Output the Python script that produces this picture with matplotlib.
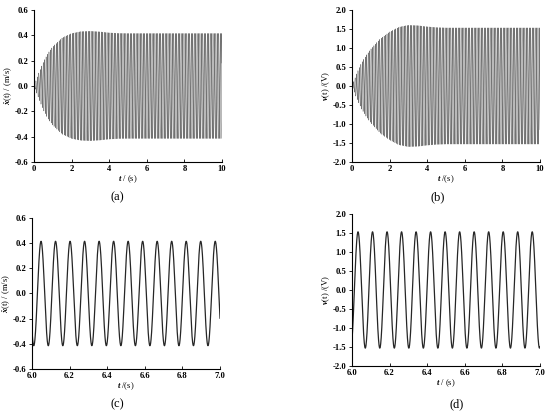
import matplotlib

matplotlib.use("Agg")
import matplotlib.pyplot as plt
import numpy as np

plt.rcParams["font.family"] = ["Liberation Serif", "DejaVu Serif"]
plt.rcParams["font.weight"] = "bold"
plt.rcParams["axes.unicode_minus"] = False
plt.rcParams["mathtext.fontset"] = "custom"
plt.rcParams["mathtext.rm"] = "Liberation Serif:bold"
plt.rcParams["mathtext.it"] = "Liberation Serif:italic:bold"
plt.rcParams["mathtext.bf"] = "Liberation Serif:bold"

# envelope of the velocity response: time (s), amplitude (m/s)
X_ENV_T = [0.0, 0.25, 0.5, 0.75, 1.0, 1.5, 2.0, 2.5, 3.0, 3.5, 4.0, 4.5, 5.0, 10.0]
X_ENV_A = [0.0, 0.10, 0.19, 0.26, 0.31, 0.38, 0.415, 0.43, 0.433, 0.428, 0.42, 0.416, 0.415, 0.415]

# envelope of the voltage: time (s), amplitude (V)
V_ENV_T = [0.0, 0.25, 0.5, 0.75, 1.0, 1.5, 2.0, 2.5, 3.0, 3.5, 4.0, 4.5, 5.0, 10.0]
V_ENV_A = [0.0, 0.33, 0.60, 0.80, 0.97, 1.24, 1.42, 1.55, 1.60, 1.59, 1.56, 1.54, 1.53, 1.53]

# carrier (c) and (d): 13 peaks in 6..7 s
FREQ_HZ = 12.95
X_PEAK_T = 6.048
V_PEAK_T = 6.032

FULL_RANGE = (0, 10)
FULL_TICKS = [0, 2, 4, 6, 8, 10]
ZOOM_RANGE = (6.0, 7.0)
ZOOM_TICKS = [6.0, 6.2, 6.4, 6.6, 6.8, 7.0]
X_YTICKS = [-0.6, -0.4, -0.2, 0.0, 0.2, 0.4, 0.6]
V_YTICKS = [-2.0, -1.5, -1.0, -0.5, 0.0, 0.5, 1.0, 1.5, 2.0]


def response(t, env_t, env_a, t_peak):
    env = np.interp(t, env_t, env_a)
    return env * np.cos(2 * np.pi * FREQ_HZ * (t - t_peak))


def style_axes(ax, xlim, xticks, yticks, xlabel, ylabel, fmt):
    ax.set_xlim(*xlim)
    ax.set_ylim(yticks[0], yticks[-1])
    ax.set_xticks(xticks)
    ax.set_yticks(yticks)
    ax.set_xticklabels([fmt(v) for v in xticks])
    ax.set_yticklabels([f"{v:.1f}" for v in yticks])
    ax.spines["top"].set_visible(False)
    ax.spines["right"].set_visible(False)
    for s in ("left", "bottom"):
        ax.spines[s].set_linewidth(0.8)
    ax.tick_params(axis="x", direction="in", length=2.5, width=0.6, labelsize=6.2, pad=2)
    ax.tick_params(axis="y", direction="out", length=2.5, width=0.6, labelsize=6.2, pad=1.5)
    ax.set_xlabel(xlabel, fontsize=6.2, labelpad=0.5)
    ax.set_ylabel(ylabel, fontsize=6.2, labelpad=0.5)


def main() -> None:
    t = np.linspace(0, 10, 40001)
    x = response(t, X_ENV_T, X_ENV_A, X_PEAK_T)
    v = response(t, V_ENV_T, V_ENV_A, V_PEAK_T)
    zoom = (t >= ZOOM_RANGE[0]) & (t <= ZOOM_RANGE[1])

    fig = plt.figure(figsize=(5.5, 4.12), dpi=100)
    ax_a = fig.add_axes([0.0618, 0.6068, 0.3418, 0.369])
    ax_b = fig.add_axes([0.64, 0.6068, 0.3418, 0.369])
    ax_c = fig.add_axes([0.0582, 0.1044, 0.3418, 0.3665])
    ax_d = fig.add_axes([0.64, 0.1117, 0.3418, 0.369])

    ax_a.plot(t, x, color="0.1", lw=0.22)
    ax_b.plot(t, v, color="0.1", lw=0.22)
    ax_c.plot(t[zoom], x[zoom], color="0.15", lw=0.9)
    ax_d.plot(t[zoom], v[zoom], color="0.15", lw=0.9)

    int_fmt = lambda val: f"{val:g}"
    dec_fmt = lambda val: f"{val:.1f}"
    style_axes(ax_a, FULL_RANGE, FULL_TICKS, X_YTICKS, r"$t$ / (s)", r"$\dot{x}$(t) / (m/s)", int_fmt)
    style_axes(ax_b, FULL_RANGE, FULL_TICKS, V_YTICKS, r"$t$ /(s)", r"$v$(t) /(V)", int_fmt)
    style_axes(ax_c, ZOOM_RANGE, ZOOM_TICKS, X_YTICKS, r"$t$ /(s)", r"$\dot{x}$(t) / (m/s)", dec_fmt)
    style_axes(ax_d, ZOOM_RANGE, ZOOM_TICKS, V_YTICKS, r"$t$ / (s)", r"$v$(t) /(V)", dec_fmt)

    for label, (px, py) in zip("abcd", [(117, 197), (438, 197), (117, 404), (457, 404)]):
        fig.text(px / 550, 1 - py / 412, f"({label})", ha="center", va="center",
                 fontsize=9, fontweight="normal")

    fig.savefig("out.png", dpi=100)
    plt.close(fig)


if __name__ == "__main__":
    main()
